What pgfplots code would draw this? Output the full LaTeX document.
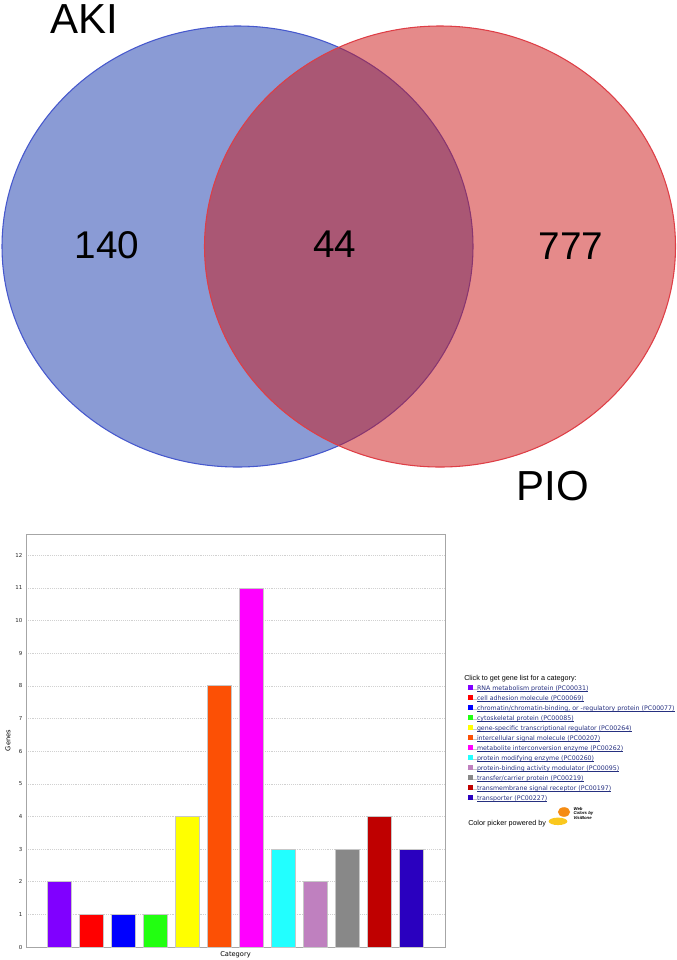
\documentclass[border=0pt]{standalone}
\usepackage{fontspec}
\setmainfont{DejaVu Sans}
\newfontfamily\arial{Liberation Sans}
\usepackage{pgfplots}
\pgfplotsset{compat=1.18}

\definecolor{vblue}{RGB}{21,55,171}
\definecolor{vred}{RGB}{203,21,21}
\definecolor{vblueline}{RGB}{70,88,205}
\definecolor{vredline}{RGB}{222,62,70}
\definecolor{linkblue}{RGB}{38,48,128}
\definecolor{c1}{RGB}{128,0,255}
\definecolor{c2}{RGB}{255,0,0}
\definecolor{c3}{RGB}{0,0,255}
\definecolor{c4}{RGB}{34,255,17}
\definecolor{c5}{RGB}{255,255,0}
\definecolor{c6}{RGB}{252,80,5}
\definecolor{c7}{RGB}{255,0,255}
\definecolor{c8}{RGB}{34,255,255}
\definecolor{c9}{RGB}{191,128,191}
\definecolor{c10}{RGB}{136,136,136}
\definecolor{c11}{RGB}{191,0,0}
\definecolor{c12}{RGB}{42,0,191}
\definecolor{logoorange}{RGB}{245,140,20}
\definecolor{logoyellow}{RGB}{250,200,30}

% link-style underline just under the baseline
\newcommand{\lk}[1]{\setbox0\hbox{#1}\rlap{\rule[-0.75pt]{\wd0}{0.3pt}}\box0}

\begin{document}
\begin{tikzpicture}
\useasboundingbox (0pt,0pt) rectangle (507pt,-720pt);

% Venn diagram, pixel coordinates of the upper part
\begin{axis}[
  at={(0pt,-390pt)}, anchor=south west,
  scale only axis, width=507pt, height=390pt,
  xmin=0, xmax=676, ymin=0, ymax=520, y dir=reverse,
  hide axis, clip=false
]
\draw[fill=vblue, fill opacity=0.5, draw=vblueline, line width=0.8pt]
  (axis cs:237.5,246.5) ellipse [x radius=235.5, y radius=220.5];
\draw[fill=vred, fill opacity=0.5, draw=vredline, line width=0.8pt]
  (axis cs:440,246.5) ellipse [x radius=235.5, y radius=220.5];
\node[anchor=base, inner sep=0pt, font=\arial\fontsize{29}{29}\selectfont] at (axis cs:107,258) {140};
\node[anchor=base, inner sep=0pt, font=\arial\fontsize{29}{29}\selectfont] at (axis cs:335,257) {44};
\node[anchor=base, inner sep=0pt, font=\arial\fontsize{29}{29}\selectfont] at (axis cs:571,259) {777};
\node[anchor=base, inner sep=0pt, font=\arial\fontsize{31.5}{31.5}\selectfont] at (axis cs:84,33) {AKI};
\node[anchor=base, inner sep=0pt, font=\arial\fontsize{31.5}{31.5}\selectfont] at (axis cs:553,500) {PIO};
\end{axis}

% bar chart
\begin{axis}[
  at={(19.5pt,-710.25pt)}, anchor=south west,
  scale only axis, width=314.25pt, height=309.75pt,
  xmin=-1.05, xmax=12.05, ymin=0, ymax=12.65,
  ytick={0,...,12}, xtick=\empty,
  ymajorgrids, grid style={densely dotted, black!18},
  axis line style={black!35, line width=0.7pt},
  major tick length=0pt,
  tick label style={font=\fontsize{4.1}{5}\selectfont, text=black!85},
  yticklabel style={inner sep=0pt, xshift=-2.5pt},
  /pgf/number format/assume math mode=true,
  ylabel={Genes}, xlabel={Category},
  every axis y label/.style={at={(rel axis cs:0,0.5)}, xshift=-13.5pt, rotate=90, anchor=center, font=\fontsize{5}{6}\selectfont},
  every axis x label/.style={at={(rel axis cs:0.5,0)}, yshift=-6pt, anchor=center, font=\fontsize{5}{6}\selectfont},
  legend style={at={(rel axis cs:1.0525,0.637)}, anchor=north west, draw=none, fill=none,
    inner sep=0pt, row sep=0pt, font=\fontsize{4.7}{5}\selectfont, text=linkblue,
    nodes={inner sep=0pt, text height=5pt, text depth=2.5pt},
    /tikz/every even column/.append style={column sep=0pt}},
  legend cell align=left,
  legend image code/.code={\path (0pt,0pt) -- (6.8pt,0pt);
    \fill[#1, draw=none] (0pt,-0.3pt) rectangle (3.75pt,3.45pt);},
  bar/.style={ybar, bar width=0.74, bar shift=0pt, fill=#1, draw=black!22, line width=0.5pt}
]
\addplot[bar=c1] coordinates {(0,2)};
\addlegendentry{\lk{RNA metabolism protein (PC00031)}}
\addplot[bar=c2] coordinates {(1,1)};
\addlegendentry{\lk{cell adhesion molecule (PC00069)}}
\addplot[bar=c3] coordinates {(2,1)};
\addlegendentry{\lk{chromatin/chromatin-binding, or -regulatory protein (PC00077)}}
\addplot[bar=c4] coordinates {(3,1)};
\addlegendentry{\lk{cytoskeletal protein (PC00085)}}
\addplot[bar=c5] coordinates {(4,4)};
\addlegendentry{\lk{gene-specific transcriptional regulator (PC00264)}}
\addplot[bar=c6] coordinates {(5,8)};
\addlegendentry{\lk{intercellular signal molecule (PC00207)}}
\addplot[bar=c7] coordinates {(6,11)};
\addlegendentry{\lk{metabolite interconversion enzyme (PC00262)}}
\addplot[bar=c8] coordinates {(7,3)};
\addlegendentry{\lk{protein modifying enzyme (PC00260)}}
\addplot[bar=c9] coordinates {(8,2)};
\addlegendentry{\lk{protein-binding activity modulator (PC00095)}}
\addplot[bar=c10] coordinates {(9,3)};
\addlegendentry{\lk{transfer/carrier protein (PC00219)}}
\addplot[bar=c11] coordinates {(10,4)};
\addlegendentry{\lk{transmembrane signal receptor (PC00197)}}
\addplot[bar=c12] coordinates {(11,3)};
\addlegendentry{\lk{transporter (PC00227)}}
\end{axis}

% legend header and footer
\node[anchor=base west, inner sep=0pt, font=\arial\fontsize{5.4}{6}\selectfont] at (348pt,-510pt)
  {Click to get gene list for a category:};
\node[anchor=base west, inner sep=0pt, font=\arial\fontsize{5.4}{6}\selectfont] at (351pt,-618.75pt)
  {Color picker powered by};
\fill[logoyellow] (418.5pt,-616pt) ellipse [x radius=7pt, y radius=2.8pt];
\fill[logoorange] (423pt,-609pt) ellipse [x radius=4.6pt, y radius=3.6pt];
\node[anchor=north west, inner sep=0pt, align=left, font=\arial\bfseries\itshape\fontsize{3.2}{3.6}\selectfont] at (430pt,-605pt)
  {Web\\Colors by\\VisiBone};
\end{tikzpicture}
\end{document}
